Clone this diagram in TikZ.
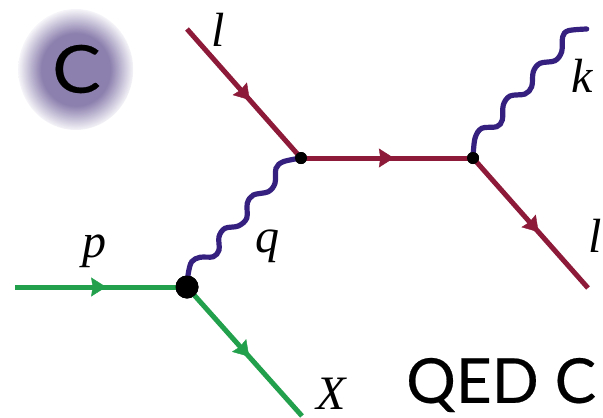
\documentclass[tikz,border=0pt]{standalone}
\usepackage{fontspec}
\setmainfont{Liberation Serif}
\newfontfamily\labelfont[FakeBold=0.35]{Lato}
\usetikzlibrary{arrows.meta,decorations.markings}
\definecolor{fermion}{HTML}{8C1A38}
\definecolor{hadron}{HTML}{22A04C}
\definecolor{photon}{HTML}{35207F}
\definecolor{glowc}{HTML}{8C80AE}
\pgfdeclareradialshading{glowshade}{\pgfpoint{0bp}{0bp}}{color(0bp)=(glowc); color(15bp)=(glowc); color(25bp)=(glowc!8!white); color(50bp)=(glowc!8!white)}
\tikzset{
  fline/.style={line width=5pt,postaction={decorate},decoration={markings,mark=at position #1 with {\arrow[line width=0.4pt]{Stealth[length=15pt,width=19pt,inset=1.5pt]}}}},
  wavy/.style={draw=photon,line width=5.2pt,line cap=round},
  vtx/.style={circle,fill=black,inner sep=0pt,minimum size=#1},
  math/.style={font=\fontsize{48}{48}\selectfont\itshape,inner sep=0pt},
  title/.style={font=\labelfont\fontsize{62}{62}\selectfont,inner sep=0pt,text=black}
}
\begin{document}
\begin{tikzpicture}[x=1pt,y=-1pt]
\useasboundingbox (0,0) rectangle (603,418);
\shade[shading=glowshade] (75.7,69.5) ellipse [x radius=57.5,y radius=60.5];
\node[title,font=\labelfont\fontsize{66}{66}\selectfont,xscale=1.1] (tc) at (76.5,69) {C};
\coordinate (l1) at (187,29);
\coordinate (f1) at (15,287);
\coordinate (x1) at (302,416);
\coordinate (l2) at (588,288);
\coordinate (k1) at (586.7,29);
\node[vtx=23pt] (v0) at (187,287) {};
\node[vtx=12pt] (v1) at (301,158) {};
\node[vtx=12pt] (v2) at (473,158) {};
\draw[fline=0.53,draw=hadron,hadron] (f1) -- (v0.center);
\draw[fline=0.54,draw=hadron,hadron] (v0.center) -- (x1);
\draw[fline=0.55,draw=fermion,fermion] (l1) -- (v1.center);
\draw[fline=0.54,draw=fermion,fermion] (v1.center) -- (v2.center);
\draw[fline=0.57,draw=fermion,fermion] (v2.center) -- (l2);
\draw[wavy] plot[smooth,tension=0.55] coordinates {(v0.center) (188.3,273.3) (191.7,261.7) (200,257.3) (213.3,256.7) (219,250) (219,236.7) (225,228.3) (238.3,226) (246.7,218.3) (247.3,203.3) (253.3,195) (268.3,191.7) (275,183.3) (276,168.3) (283.3,161.7) (v1.center)};
\draw[wavy] plot[smooth,tension=0.55] coordinates {(v2.center) (475,138.3) (481.7,128.3) (496.7,126.7) (502.3,120) (503.3,105) (510,96) (525,94) (531.7,86.7) (533.3,71.7) (540,63.3) (555,60.7) (561.7,51.7) (562.7,36.7) (568.3,30.7) (k1)};
\node[vtx=23pt] at (v0) {};
\node[vtx=12pt] at (v1) {};
\node[vtx=12pt] at (v2) {};
\node[math] (tl1) at (218,30) {l};
\node[math] (tp) at (94,251) {p};
\node[math] (tq) at (267,246) {q};
\node[math] (tk) at (582,76) {k};
\node[math] (tl2) at (595,236) {l};
\node[math] (tx) at (331,394) {X};
\node[title,anchor=west] (tq2) at (406,385) {QED C};
\end{tikzpicture}
\end{document}
